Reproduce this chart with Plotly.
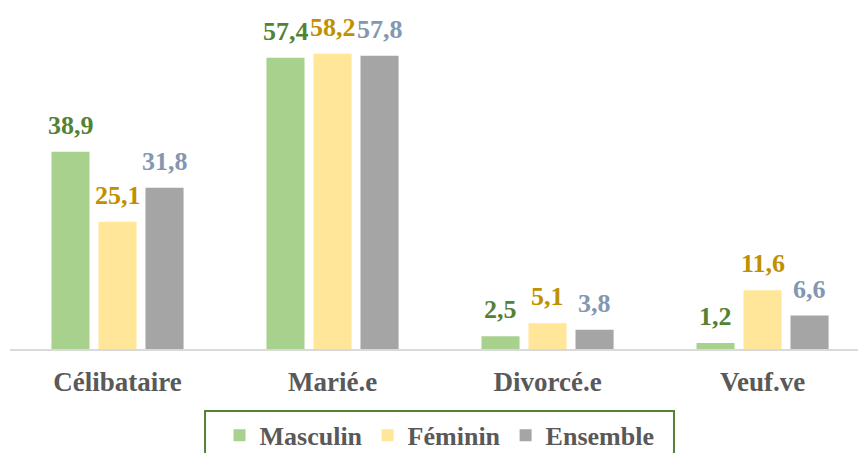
import plotly.graph_objects as go

categories = ["Célibataire", "Marié.e", "Divorcé.e", "Veuf.ve"]
masculin = [38.9, 57.4, 2.5, 1.2]
feminin = [25.1, 58.2, 5.1, 11.6]
ensemble = [31.8, 57.8, 3.8, 6.6]

series = [
    ("Masculin", masculin, "#A9D18E", "#548235", -47),
    ("Féminin", feminin, "#FFE699", "#BF9000", 0),
    ("Ensemble", ensemble, "#A5A5A5", "#8497B0", 47),
]

FONT = "Liberation Serif"

fig = go.Figure()
annotations = []
for name, vals, col, lcol, dx in series:
    fig.add_trace(go.Bar(x=categories, y=vals, name=name, marker_color=col,
                         marker_line_width=0))
    for c, v in zip(categories, vals):
        annotations.append(dict(
            x=c, y=v, xref="x", yref="y", text="<b>" + f"{v:.1f}".replace(".", ",") + "</b>",
            showarrow=False, yanchor="bottom", xshift=dx, yshift=10,
            font=dict(family=FONT, size=26, color=lcol)))

fig.update_layout(
    width=858, height=453,
    margin=dict(l=10, r=0, t=0, b=104, autoexpand=False),
    paper_bgcolor="white", plot_bgcolor="white",
    barmode="group", bargap=0.344, bargroupgap=0.19,
    font=dict(family=FONT, size=26, color="#595959"),
    annotations=annotations,
    showlegend=True,
    legend=dict(orientation="h", x=0.5065, xanchor="center", y=-0.18, yanchor="top",
                borderwidth=0,
                font=dict(family=FONT, size=26, color="#595959", weight="bold"),
                traceorder="normal"),
    shapes=[dict(type="rect", xref="paper", yref="paper", x0=0.2300, x1=0.7830,
                 y0=-0.178, y1=-0.40, line=dict(color="#548235", width=2),
                 fillcolor="rgba(0,0,0,0)")],
    xaxis=dict(type="category", range=[-0.5, 3.444], showline=True, linecolor="#D9D9D9",
               linewidth=2, showgrid=False, ticks="", ticklabelstandoff=8,
               tickfont=dict(family=FONT, size=27, color="#595959", weight="bold")),
    yaxis=dict(range=[0, 68.8], showgrid=False, showticklabels=False, zeroline=False,
               showline=False),
)

fig.write_html("out.html", config={"displayModeBar": False},
               post_script="document.body.style.margin='0';document.body.style.overflow='hidden';")
